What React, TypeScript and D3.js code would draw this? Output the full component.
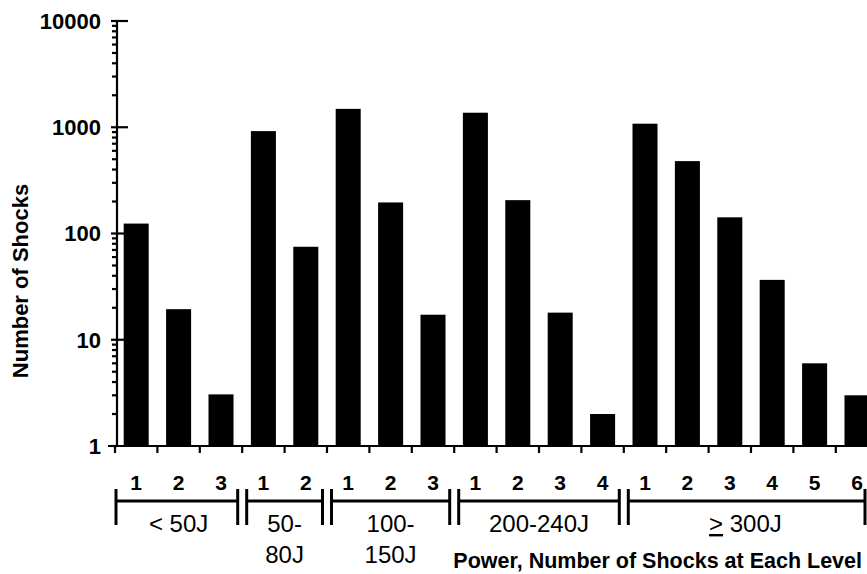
import React from 'react';
import * as d3 from 'd3';

const useD3 = (renderChart: any, dependencies: any[]) => {
  const ref = React.useRef<SVGSVGElement>(null);

  React.useEffect(() => {
    renderChart(d3.select(ref.current));
  }, dependencies);

  return ref;
};

// power groups and how many bars each one holds
const groupLabels = [['< 50J'], ['50-', '80J'], ['100-', '150J'], ['200-240J'], ['>', ' 300J']];
const groupSizes = [3, 2, 3, 4, 6];

// shock number within each group, and the count of shocks (log scale)
const shockNumbers = ['1', '2', '3', '1', '2', '1', '2', '3', '1', '2', '3', '4', '1', '2', '3', '4', '5', '6'];
const shockCounts = [124, 19.4, 3.06, 920, 75, 1490, 196, 17.2, 1370, 206, 18, 2, 1080, 480, 142, 36.6, 6, 3];

const yTicks = [1, 10, 100, 1000, 10000];

const FONT = "Arial, 'Liberation Sans', Helvetica, sans-serif";

const renderChart = (svg: any) => {
  const width = 867;
  const left = 115;
  const axisX = 117;
  const bottom = 446;
  const top = 21;
  const step = 42.4;

  svg.selectAll('*').remove();

  const idx = shockCounts.map((_, i) => i);
  const xScale = d3
    .scaleBand<number>()
    .domain(idx)
    .range([left, left + step * idx.length])
    .paddingInner(0.41)
    .paddingOuter(0.205)
  ;
  const yScale = d3
    .scaleLog()
    .domain([1, 10000])
    .range([bottom, top])
  ;
  const boundary = (i: number) => left + i * xScale.step();

  // bars
  svg
    .append('g')
    .selectAll('rect')
    .data(shockCounts)
    .join('rect')
    .attr('x', (_: any, i: number) => xScale(i))
    .attr('width', xScale.bandwidth())
    .attr('y', (d: number) => yScale(d))
    .attr('height', (d: number) => bottom - yScale(d))
    .attr('fill', '#000')
  ;

  // y axis, log ticks
  const yAxis = svg.append('g').attr('stroke', '#000').attr('stroke-width', 2.2);
  yAxis.append('line')
    .attr('x1', axisX).attr('x2', axisX)
    .attr('y1', top).attr('y2', bottom);
  const minor: number[] = [];
  yTicks.slice(0, -1).forEach(t => d3.range(2, 10).forEach(m => minor.push(t * m)));
  yAxis.selectAll('.minor')
    .data(minor)
    .join('line')
    .attr('class', 'minor')
    .attr('x1', axisX - 5).attr('x2', axisX + 1)
    .attr('y1', (d: number) => yScale(d)).attr('y2', (d: number) => yScale(d));
  yAxis.selectAll('.major')
    .data(yTicks)
    .join('line')
    .attr('class', 'major')
    .attr('x1', axisX - 6).attr('x2', (d: number) => d === 1 ? axisX : axisX + 11)
    .attr('y1', (d: number) => yScale(d)).attr('y2', (d: number) => yScale(d));

  svg.append('g')
    .selectAll('text')
    .data(yTicks)
    .join('text')
    .attr('x', 101)
    .attr('y', (d: number) => yScale(d))
    .attr('dy', '0.36em')
    .attr('text-anchor', 'end')
    .attr('font-family', FONT)
    .attr('font-weight', 'bold')
    .attr('font-size', 22)
    .text((d: number) => String(d));

  // x axis baseline and boundary ticks
  const xAxis = svg.append('g').attr('stroke', '#000').attr('stroke-width', 2.2);
  xAxis.append('line')
    .attr('x1', 108).attr('x2', width)
    .attr('y1', bottom).attr('y2', bottom);
  xAxis.selectAll('.xt')
    .data(d3.range(idx.length + 1))
    .join('line')
    .attr('class', 'xt')
    .attr('x1', (i: number) => boundary(i)).attr('x2', (i: number) => boundary(i))
    .attr('y1', bottom).attr('y2', bottom + 7);

  // shock number labels
  svg.append('g')
    .selectAll('text')
    .data(shockNumbers)
    .join('text')
    .attr('x', (_: any, i: number) => (xScale(i) as number) + xScale.bandwidth() / 2)
    .attr('y', 490)
    .attr('text-anchor', 'middle')
    .attr('font-family', FONT)
    .attr('font-weight', 'bold')
    .attr('font-size', 21)
    .text((d: string) => d);

  // group brackets
  const starts = groupSizes.map((_, g) => d3.sum(groupSizes.slice(0, g)));
  const bracketY = 501;
  const br = svg.append('g').attr('stroke', '#000').attr('stroke-width', 3);
  groupSizes.forEach((n, g) => {
    const x0 = g === 0 ? boundary(0) + 1 : boundary(starts[g]) + 4.5;
    const x1 = g === groupSizes.length - 1 ? Math.min(boundary(starts[g] + n), width - 2) : boundary(starts[g] + n) - 4.5;
    br.append('line').attr('x1', x0).attr('x2', x1).attr('y1', bracketY).attr('y2', bracketY);
    br.append('line').attr('x1', x0).attr('x2', x0).attr('y1', bracketY - 12).attr('y2', bracketY + 24);
    br.append('line').attr('x1', x1).attr('x2', x1).attr('y1', bracketY - 12).attr('y2', bracketY + 24);
  });

  // group labels
  groupLabels.forEach((lines, g) => {
    const x0 = boundary(starts[g]);
    const x1 = Math.min(boundary(starts[g] + groupSizes[g]), width);
    const t = svg.append('text')
      .attr('x', (x0 + x1) / 2)
      .attr('y', 532)
      .attr('text-anchor', 'middle')
      .attr('font-family', FONT)
      .attr('font-size', 24);
    if (g === groupLabels.length - 1) {
      t.append('tspan').attr('text-decoration', 'underline').text(lines[0]);
      t.append('tspan').text(lines[1]);
    } else {
      lines.forEach((line, k) => {
        t.append('tspan').attr('x', (x0 + x1) / 2).attr('dy', k === 0 ? 0 : 31).text(line);
      });
    }
  });

  // axis titles
  svg.append('text')
    .attr('transform', 'translate(28, 281) rotate(-90)')
    .attr('text-anchor', 'middle')
    .attr('font-family', FONT)
    .attr('font-weight', 'bold')
    .attr('font-size', 22)
    .text('Number of Shocks');

  svg.append('text')
    .attr('x', 862)
    .attr('y', 568)
    .attr('text-anchor', 'end')
    .attr('font-family', FONT)
    .attr('font-weight', 'bold')
    .attr('font-size', 21.5)
    .text('Power, Number of Shocks at Each Level');
};

const App: React.FC = () => {
  const ref = useD3(renderChart, [shockCounts]);

  return (
    <svg
      ref={ref}
      width={867}
      height={574}
      style={{ position: 'absolute', left: 0, top: 0, background: '#fff' }}
    />
  );
};

export default App;
